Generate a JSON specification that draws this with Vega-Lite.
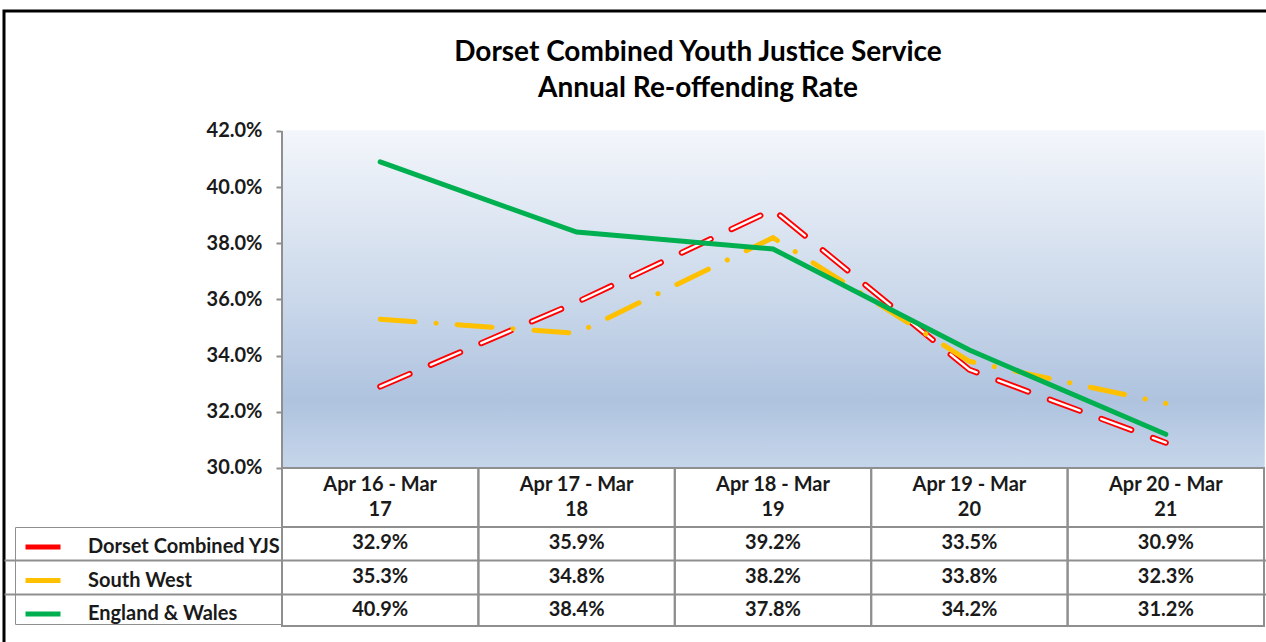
{
  "$schema": "https://vega.github.io/schema/vega-lite/v6.json",
  "width": 1266,
  "height": 635,
  "autosize": {"type": "none"},
  "padding": {"left": 4, "top": 11, "right": -4, "bottom": -4},
  "background": "#ffffff",
  "config": {
    "view": {"stroke": "#000000", "strokeWidth": 3},
    "font": "Lato"
  },
  "title": {
    "text": ["Dorset Combined Youth Justice Service", "Annual Re-offending Rate"],
    "anchor": "middle",
    "frame": "group",
    "orient": "top",
    "offset": 0,
    "dx": 61,
    "dy": 92,
    "font": "Lato",
    "fontSize": 28,
    "fontWeight": "bold",
    "lineHeight": 36,
    "color": "#000000"
  },
  "data": {
    "values": [
      {"period": "Apr 16 - Mar 17", "series": "Dorset Combined YJS", "rate": 0.329},
      {"period": "Apr 17 - Mar 18", "series": "Dorset Combined YJS", "rate": 0.359},
      {"period": "Apr 18 - Mar 19", "series": "Dorset Combined YJS", "rate": 0.392},
      {"period": "Apr 19 - Mar 20", "series": "Dorset Combined YJS", "rate": 0.335},
      {"period": "Apr 20 - Mar 21", "series": "Dorset Combined YJS", "rate": 0.309},
      {"period": "Apr 16 - Mar 17", "series": "South West", "rate": 0.353},
      {"period": "Apr 17 - Mar 18", "series": "South West", "rate": 0.348},
      {"period": "Apr 18 - Mar 19", "series": "South West", "rate": 0.382},
      {"period": "Apr 19 - Mar 20", "series": "South West", "rate": 0.338},
      {"period": "Apr 20 - Mar 21", "series": "South West", "rate": 0.323},
      {"period": "Apr 16 - Mar 17", "series": "England & Wales", "rate": 0.409},
      {"period": "Apr 17 - Mar 18", "series": "England & Wales", "rate": 0.384},
      {"period": "Apr 18 - Mar 19", "series": "England & Wales", "rate": 0.378},
      {"period": "Apr 19 - Mar 20", "series": "England & Wales", "rate": 0.342},
      {"period": "Apr 20 - Mar 21", "series": "England & Wales", "rate": 0.312}
    ]
  },
  "layer": [
    {
      "transform": [{"filter": "datum.series === 'England & Wales'"}],
      "mark": {
        "type": "rect",
        "strokeWidth": 1.5,
        "fill": {
          "gradient": "linear",
          "x1": 0, "y1": 0, "x2": 0, "y2": 1,
          "stops": [
            {"offset": 0, "color": "#f3f6fb"},
            {"offset": 0.5, "color": "#cad8ea"},
            {"offset": 0.8, "color": "#afc3df"},
            {"offset": 1, "color": "#c6d6ea"}
          ]
        },
        "stroke": {
          "gradient": "linear",
          "x1": 0, "y1": 0, "x2": 0, "y2": 1,
          "stops": [
            {"offset": 0, "color": "#f3f6fb"},
            {"offset": 0.5, "color": "#cad8ea"},
            {"offset": 0.8, "color": "#afc3df"},
            {"offset": 1, "color": "#c6d6ea"}
          ]
        }
      },
      "encoding": {
        "x": {
          "field": "period", "type": "nominal",
          "scale": {
            "type": "band",
            "domain": ["Apr 16 - Mar 17", "Apr 17 - Mar 18", "Apr 18 - Mar 19", "Apr 19 - Mar 20", "Apr 20 - Mar 21"],
            "paddingInner": 0,
            "paddingOuter": 0.72301,
            "align": 0.97887
          },
          "axis": {
            "orient": "bottom",
            "offset": -178,
            "title": null,
            "domain": false,
            "ticks": false,
            "grid": false,
            "labelAngle": 0,
            "labelExpr": "[slice(datum.label, 0, 12), slice(datum.label, 13)]",
            "labelFont": "Lato",
            "labelFontSize": 20,
            "labelFontWeight": "bold",
            "labelColor": "#1a1a1a",
            "labelBaseline": "top",
            "labelLineHeight": 25,
            "labelPadding": 6,
            "labelOverlap": false,
            "labelBound": false
          }
        },
        "y": {
          "datum": 0.42, "type": "quantitative",
          "scale": {"domain": [0.236617, 0.46273], "nice": false, "zero": false},
          "axis": {
            "orient": "left",
            "offset": -278,
            "title": null,
            "domain": false,
            "values": [0.255134, 0.26724, 0.30, 0.32, 0.34, 0.36, 0.38, 0.40, 0.42],
            "labelExpr": "datum.value < 0.29 ? '' : format(datum.value, '.1%')",
            "grid": true,
            "gridColor": "#8f8f8f",
            "gridWidth": 2,
            "gridOpacity": {"condition": {"test": "datum.value < 0.29", "value": 1}, "value": 0},
            "tickOpacity": {"condition": {"test": "datum.value < 0.29", "value": 0}, "value": 1},
            "tickSize": 6,
            "tickColor": "#8f8f8f",
            "tickWidth": 2,
            "labelFont": "Lato",
            "labelFontSize": 20,
            "labelFontWeight": "bold",
            "labelColor": "#1a1a1a",
            "labelPadding": 14
          }
        },
        "y2": {"datum": 0.30}
      }
    },
    {
      "transform": [{"filter": "datum.series === 'England & Wales'"}],
      "mark": {"type": "rect", "fillOpacity": 0, "stroke": "#8f8f8f", "strokeWidth": 2},
      "encoding": {
        "x": {"field": "period", "type": "nominal"},
        "y": {"datum": 0.30, "type": "quantitative"},
        "y2": {"datum": 0.278991}
      }
    },
    {
      "transform": [{"filter": "datum.series === 'England & Wales'"}],
      "mark": {"type": "rect", "fillOpacity": 0, "stroke": "#8f8f8f", "strokeWidth": 2},
      "encoding": {
        "x": {"field": "period", "type": "nominal"},
        "y": {"datum": 0.278991, "type": "quantitative"},
        "y2": {"datum": 0.243739}
      }
    },
    {
      "transform": [{"filter": "datum.series === 'England & Wales' && datum.period === 'Apr 16 - Mar 17'"}],
      "mark": {"type": "rule", "color": "#8f8f8f", "strokeWidth": 2},
      "encoding": {
        "x": {"field": "period", "type": "nominal", "bandPosition": 0},
        "y": {"datum": 0.42, "type": "quantitative"},
        "y2": {"datum": 0.30}
      }
    },
    {
      "transform": [{"filter": "datum.series === 'Dorset Combined YJS'"}],
      "mark": {"type": "line", "strokeWidth": 6, "strokeCap": "round", "strokeDash": [32, 23]},
      "encoding": {
        "x": {"field": "period", "type": "nominal"},
        "y": {"field": "rate", "type": "quantitative"},
        "color": {
          "field": "series", "type": "nominal",
          "scale": {"domain": ["Dorset Combined YJS", "South West", "England & Wales"], "range": ["#ff0000", "#ffc000", "#00b050"]},
          "legend": {
            "orient": "none",
            "legendX": 11,
            "legendY": 516,
            "title": null,
            "symbolType": "stroke",
            "symbolSize": 1225,
            "symbolStrokeWidth": 5,
            "symbolOffset": 8,
            "labelOffset": 25,
            "labelLimit": 400,
            "labelFont": "Lato",
            "labelFontSize": 20,
            "labelFontWeight": "bold",
            "labelColor": "#1a1a1a",
            "padding": 0,
            "rowPadding": 3.5,
            "strokeColor": "#8f8f8f",
            "cornerRadius": 0
          }
        }
      }
    },
    {
      "transform": [{"filter": "datum.series === 'Dorset Combined YJS'"}],
      "mark": {"type": "line", "strokeWidth": 2.4, "strokeCap": "round", "color": "#ffffff", "strokeDash": [32, 23]},
      "encoding": {
        "x": {"field": "period", "type": "nominal"},
        "y": {"field": "rate", "type": "quantitative"}
      }
    },
    {
      "transform": [{"filter": "datum.series === 'South West'"}],
      "mark": {"type": "line", "strokeWidth": 5, "strokeCap": "round", "strokeDash": [35, 21, 0.1, 21]},
      "encoding": {
        "x": {"field": "period", "type": "nominal"},
        "y": {"field": "rate", "type": "quantitative"},
        "color": {"field": "series", "type": "nominal"}
      }
    },
    {
      "transform": [{"filter": "datum.series === 'England & Wales'"}],
      "mark": {"type": "line", "strokeWidth": 5, "strokeCap": "round"},
      "encoding": {
        "x": {"field": "period", "type": "nominal"},
        "y": {"field": "rate", "type": "quantitative"},
        "color": {"field": "series", "type": "nominal"}
      }
    },
    {
      "transform": [{"filter": "datum.series === 'Dorset Combined YJS'"}],
      "mark": {"type": "text", "font": "Lato", "fontSize": 20, "fontWeight": "bold", "color": "#1a1a1a", "align": "center", "baseline": "middle"},
      "encoding": {
        "x": {"field": "period", "type": "nominal"},
        "y": {"datum": 0.273116, "type": "quantitative"},
        "text": {"field": "rate", "type": "quantitative", "format": ".1%"}
      }
    },
    {
      "transform": [{"filter": "datum.series === 'South West'"}],
      "mark": {"type": "text", "font": "Lato", "fontSize": 20, "fontWeight": "bold", "color": "#1a1a1a", "align": "center", "baseline": "middle"},
      "encoding": {
        "x": {"field": "period", "type": "nominal"},
        "y": {"datum": 0.261187, "type": "quantitative"},
        "text": {"field": "rate", "type": "quantitative", "format": ".1%"}
      }
    },
    {
      "transform": [{"filter": "datum.series === 'England & Wales'"}],
      "mark": {"type": "text", "font": "Lato", "fontSize": 20, "fontWeight": "bold", "color": "#1a1a1a", "align": "center", "baseline": "middle"},
      "encoding": {
        "x": {"field": "period", "type": "nominal"},
        "y": {"datum": 0.249436, "type": "quantitative"},
        "text": {"field": "rate", "type": "quantitative", "format": ".1%"}
      }
    }
  ]
}
